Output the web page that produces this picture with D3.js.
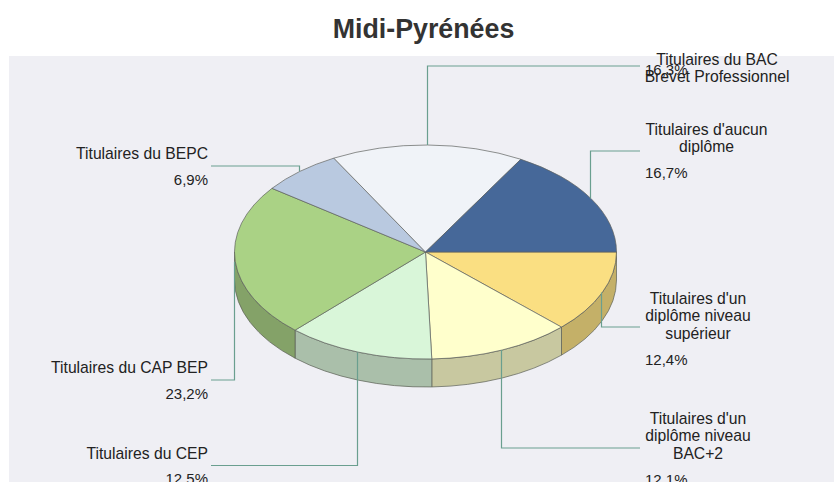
<!DOCTYPE html>
<html>
<head>
<meta charset="utf-8">
<script src="https://cdn.jsdelivr.net/npm/d3@7"></script>
<style>
  html, body { margin: 0; padding: 0; background: #fff; overflow: hidden; }
  text { font-family: "Liberation Sans", Arial, sans-serif; }
</style>
</head>
<body>
<div id="chart"></div>
<script>
const categories = [
    "Titulaires d'un\ndiplôme niveau\nsupérieur",
    "Titulaires d'un\ndiplôme niveau\nBAC+2",
    "Titulaires du CEP",
    "Titulaires du CAP BEP",
    "Titulaires du BEPC",
    "Titulaires du BAC\nBrevet Professionnel",
    "Titulaires d'aucun\ndiplôme"
];
const values = [12.4, 12.1, 12.5, 23.2, 6.9, 16.3, 16.7];
const topColors = ["#fadf82", "#ffffcc", "#d9f6d9", "#aad285", "#b9c9e0", "#f0f3f8", "#466899"];
const sideColors = ["#c4b068", "#c8c8a0", "#aabfaa", "#84a268", "#91a0b2", "#bcc0c6", "#37527a"];

// where the label of each slice goes: elbow of the leader + text baselines
const labelLayout = [
    {side: "r", elbowY: 327, lines: [303.5, 321, 338.5], pctY: 364.5, cx: 698},
    {side: "r", elbowY: 448, lines: [423.5, 441, 458.5], pctY: 484.5, cx: 698},
    {side: "l", elbowY: 465.5, lines: [458.5], pctY: 483.5},
    {side: "l", elbowY: 380, lines: [372.5], pctY: 398.5},
    {side: "l", elbowY: 166, lines: [158.5], pctY: 184.5},
    {side: "r", elbowY: 66, lines: [64.5, 81.5], pctY: 74.5, cx: 717},
    {side: "r", elbowY: 151, lines: [134.5, 151.5], pctY: 177.5, cx: 706.5}
];

const width = 834;
const height = 482;
const cx = 425.5, cy = 252, rx = 191, ry = 107, depth = 28;

const svg = d3.select('#chart')
    .append('svg')
    .attr('width', width)
    .attr('height', height)
    .style('display', 'block');

svg.append('rect')
    .attr('x', 9).attr('y', 56)
    .attr('width', width - 9).attr('height', height - 56)
    .attr('fill', '#efeff4');

svg.append('text')
    .attr('x', 423.5).attr('y', 38)
    .attr('text-anchor', 'middle')
    .attr('font-size', 26.8).attr('font-weight', 'bold')
    .attr('fill', '#333')
    .text('Midi-Pyrénées');

// clockwise from 3 o'clock
const pie = d3.pie().sort(null).startAngle(Math.PI / 2).endAngle(Math.PI * 2.5);
const slices = pie(values);
const arc = d3.arc().innerRadius(0).outerRadius(rx);

// d3 angles start at 12 o'clock, move to screen coordinates on the ellipse
const px = a => cx + rx * Math.sin(a);
const py = a => cy - ry * Math.cos(a);

// side walls, only the front half of the pie shows
function wall(a0, a1) {
    const s = Math.max(a0, Math.PI / 2), e = Math.min(a1, Math.PI * 1.5);
    if (s >= e) return null;
    return `M${px(s)},${py(s)}A${rx},${ry} 0 0 1 ${px(e)},${py(e)}` +
        `L${px(e)},${py(e) + depth}A${rx},${ry} 0 0 0 ${px(s)},${py(s) + depth}Z`;
}

svg.append('g')
    .selectAll('path')
    .data(slices)
    .join('path')
        .attr('d', d => wall(d.startAngle, d.endAngle))
        .attr('fill', (d, i) => sideColors[i])
        .attr('stroke', '#5a5f55')
        .attr('stroke-width', 0.7);

svg.append('g')
    .attr('transform', `translate(${cx},${cy}) scale(1,${ry / rx})`)
    .selectAll('path')
    .data(slices)
    .join('path')
        .attr('d', arc)
        .attr('fill', (d, i) => topColors[i])
        .attr('stroke', '#5f625f')
        .attr('stroke-width', 0.7)
        .attr('vector-effect', 'non-scaling-stroke');

// leaders
const leaderEnd = {r: 640, l: 211};
svg.append('g')
    .selectAll('path')
    .data(slices)
    .join('path')
        .attr('d', (d, i) => {
            const mid = (d.startAngle + d.endAngle) / 2;
            const l = labelLayout[i];
            const x = Math.floor(px(mid) - 0.5) + 0.5;
            return d3.line()([[x, py(mid)], [x, l.elbowY], [l.side == 'r' ? leaderEnd.r : leaderEnd.l, l.elbowY]]);
        })
        .attr('fill', 'none')
        .attr('stroke', '#6a9f8f')
        .attr('stroke-width', 1.2);

// labels
const labels = svg.append('g').attr('font-size', 15.7).attr('fill', '#222');
slices.forEach((d, i) => {
    const l = labelLayout[i];
    const parts = categories[i].split('\n');
    parts.forEach((t, j) => {
        labels.append('text')
            .attr('x', l.side == 'r' ? l.cx : 208)
            .attr('y', l.lines[j])
            .attr('text-anchor', l.side == 'r' ? 'middle' : 'end')
            .text(t);
    });
    labels.append('text')
        .attr('x', l.side == 'r' ? 645 : 208)
        .attr('y', l.pctY)
        .attr('font-size', 15)
        .attr('text-anchor', l.side == 'r' ? 'start' : 'end')
        .text(d3.format('.1f')(values[i]).replace('.', ',') + '%');
});
</script>
</body>
</html>
